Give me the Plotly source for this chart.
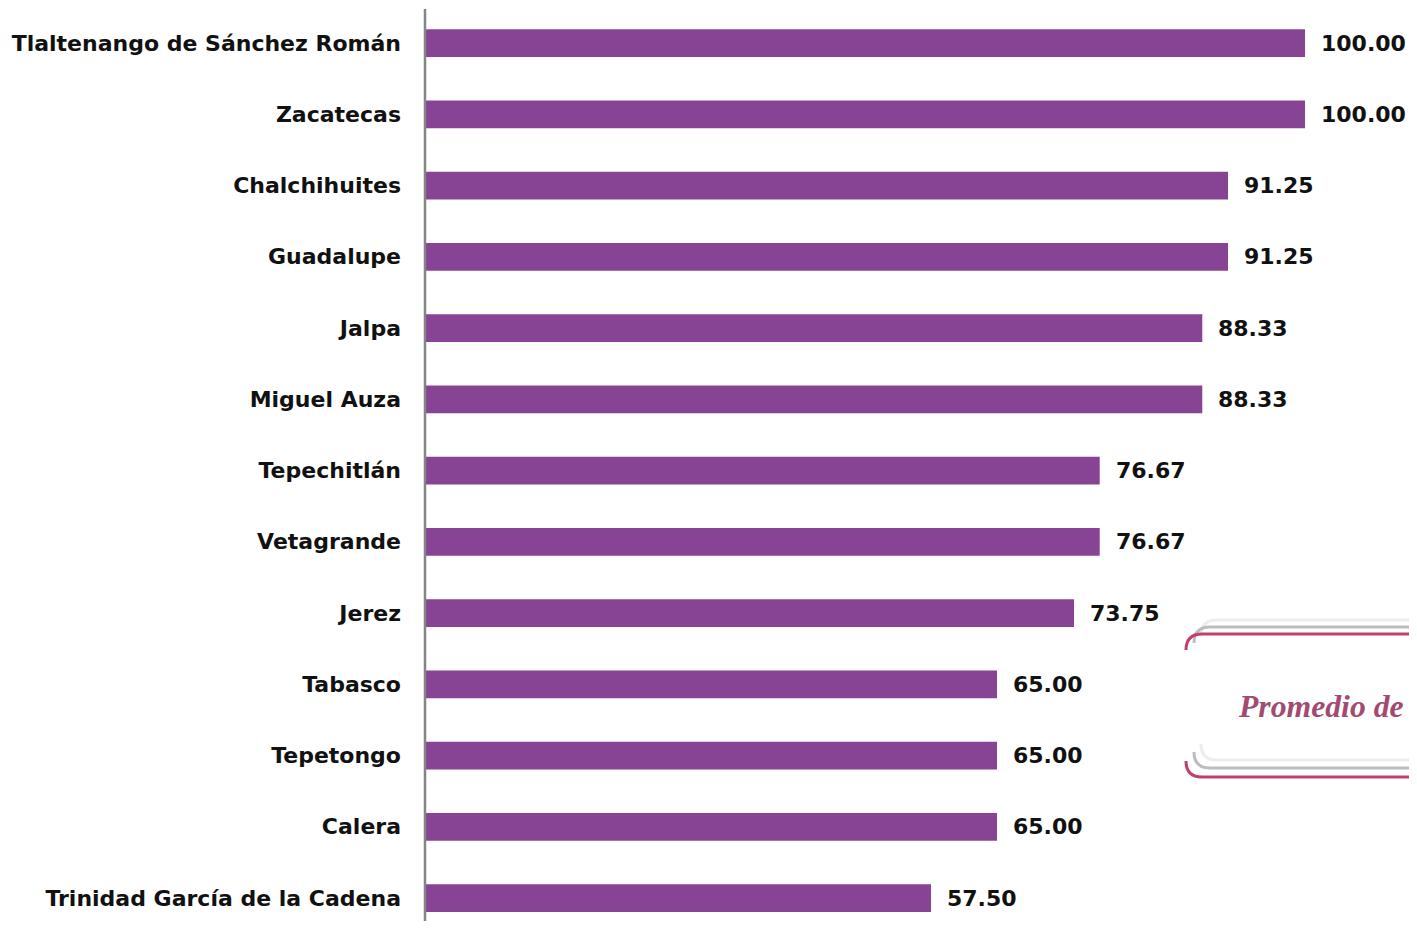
import plotly.graph_objects as go

municipios = ["Tlaltenango de Sánchez Román", "Zacatecas", "Chalchihuites", "Guadalupe",
              "Jalpa", "Miguel Auza", "Tepechitlán", "Vetagrande", "Jerez", "Tabasco",
              "Tepetongo", "Calera", "Trinidad García de la Cadena"]
valores = [100.00, 100.00, 91.25, 91.25, 88.33, 88.33, 76.67, 76.67, 73.75, 65.00, 65.00, 65.00, 57.50]
etiquetas = [f"{v:.2f}" for v in valores]
callout_text = "Promedio de Jurisdicción"

# page body has an 8px default margin; figure is sized to fit inside the window
OFF = 8
W, H = 1417 - OFF, 929 - 2 * OFF
L, R, T, B = 425 - OFF, 0, 0, 0
PW, PH = W - L - R, H - T - B
STEP = 71.25  # pixels per category


def px(x):  # picture pixel -> paper
    return (x - OFF - L) / PW


def py(y):
    return (H - B - (y - OFF)) / PH


fig = go.Figure()
fig.add_trace(go.Bar(
    y=municipios, x=valores, orientation="h",
    marker=dict(color="#874494", line=dict(width=0)),
    hoverinfo="skip",
))

for m, v, t in zip(municipios, valores, etiquetas):
    fig.add_annotation(x=v, y=m, text=t, showarrow=False, xanchor="left", xshift=14,
                       font=dict(family="DejaVu Sans", size=22, color="#111111", weight="bold"))


def bracket(x0, y0, y1, r, x_end):
    top = f"M {px(x0)} {py(y0 + r)} Q {px(x0)} {py(y0)} {px(x0 + r)} {py(y0)} L {px(x_end)} {py(y0)}"
    bot = f"M {px(x0)} {py(y1 - r)} Q {px(x0)} {py(y1)} {px(x0 + r)} {py(y1)} L {px(x_end)} {py(y1)}"
    return top + " " + bot


shapes = [
    # category axis line
    dict(type="line", xref="paper", yref="paper", x0=px(425), x1=px(425), y0=py(9), y1=py(940),
         line=dict(color="#858585", width=2.5), layer="above"),
]
for x0, y0, y1, r, col, w in [
    (1201, 620, 760, 16, "#EDEDED", 3),
    (1194, 627, 768, 16, "#BDBDBD", 3),
    (1186, 634, 777, 16, "#C0406A", 3),
]:
    shapes.append(dict(type="path", xref="paper", yref="paper", path=bracket(x0, y0, y1, r, 1500),
                       line=dict(color=col, width=w), layer="above"))

fig.add_annotation(xref="paper", yref="paper", x=px(1236), y=py(706), xanchor="left", yanchor="middle",
                   text=callout_text, showarrow=False,
                   font=dict(family="Liberation Serif", size=31.7, color="#A24A72", weight="bold", style="italic"))

top_val = -0.5 + 0.6 / STEP
range_bottom = top_val + PH / STEP
fig.update_layout(
    width=W, height=H, margin=dict(l=L, r=R, t=T, b=B, pad=0),
    paper_bgcolor="white", plot_bgcolor="white",
    bargap=0.61, showlegend=False, shapes=shapes,
    xaxis=dict(range=[0, PW / 8.8], showgrid=False, zeroline=False, showticklabels=False,
               showline=False, fixedrange=True),
    yaxis=dict(categoryorder="array", categoryarray=municipios,
               range=[range_bottom, top_val], showgrid=False, zeroline=False,
               showline=False, ticks="",
               ticklabelstandoff=23,
               tickfont=dict(family="DejaVu Sans", size=22, color="#111111", weight="bold")),
)
fig.write_html("out.html")
